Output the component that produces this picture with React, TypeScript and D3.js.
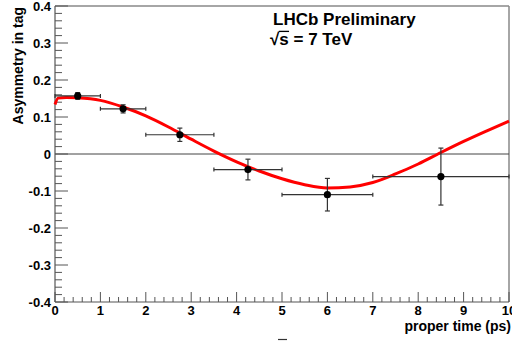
import * as d3 from 'd3';

// binned asymmetry points (bin edges + centre)
const binLow = [0, 1, 2, 3.5, 5, 7];
const binHigh = [1, 2, 3.5, 5, 7, 10];
const binCentre = [0.5, 1.5, 2.75, 4.25, 6, 8.5];
const asym = [0.157, 0.122, 0.052, -0.042, -0.11, -0.061];
const asymErr = [0.009, 0.011, 0.018, 0.028, 0.044, 0.077];

// fitted curve
const fitT = [0, 0.07, 0.25, 0.5, 1, 1.5, 2, 2.5, 3, 3.5, 4, 4.5, 5, 5.5, 6, 6.5, 7, 7.5, 8, 8.5, 9, 9.5, 10];
const fitA = [0.134, 0.151, 0.153, 0.152, 0.145, 0.127, 0.103, 0.073, 0.04, 0.008, -0.021, -0.046, -0.067, -0.083, -0.092, -0.089, -0.077, -0.054, -0.027, 0.004, 0.034, 0.062, 0.089];

const xTitle = 'proper time (ps)';
const yTitle = 'Asymmetry in tag';
const label1 = 'LHCb Preliminary';

const W = 512, H = 345;
const FONT = '"Liberation Sans", Arial, Helvetica, sans-serif';

const App = () => {
  const x = d3.scaleLinear().domain([0, 10]).range([55, 509]);
  const y = d3.scaleLinear().domain([-0.4, 0.4]).range([302, 6]);

  const xMajor = x.ticks(10);
  const xMinor = x.ticks(50).filter(v => !xMajor.some(m => Math.abs(m - v) < 1e-9));
  const yMajor = y.ticks(8);
  const yMinor = y.ticks(40).filter(v => !yMajor.some(m => Math.abs(m - v) < 1e-9));

  const fitData = fitT.map((t, i) => ({ t, a: fitA[i] }));
  const line = d3.line<{ t: number; a: number }>()
    .x(d => x(d.t)).y(d => y(d.a))
    .curve(d3.curveMonotoneX);

  const axisCol = '#555';
  const barCol = '#333';
  const x0 = x(0), yb = y(-0.4);

  // sqrt-s label layout
  const fs = 17;
  const sqX = 270, sqY = 45;

  return (
    <svg width={W} height={H} style={{ position: 'absolute', left: 0, top: 0, background: '#fff' }}
      fontFamily={FONT}>
      <rect x={0} y={0} width={W} height={H} fill="#fff" />

      {/* frame top/right */}
      <line x1={x0} x2={x(10)} y1={y(0.4)} y2={y(0.4)} stroke="#888" strokeWidth={1.5} />
      <line x1={x(10)} x2={x(10)} y1={y(0.4)} y2={yb} stroke="#888" strokeWidth={1.5} />

      {/* zero line */}
      <line x1={x0} x2={x(10)} y1={y(0)} y2={y(0)} stroke="#444" strokeWidth={1} />

      {/* y axis */}
      <line x1={x0} x2={x0} y1={y(0.4)} y2={yb} stroke={axisCol} strokeWidth={1.2} />
      {yMajor.map(v => (
        <line key={'ym' + v} x1={x0} x2={x0 + 13} y1={y(v)} y2={y(v)} stroke={axisCol} strokeWidth={1} />
      ))}
      {yMinor.map(v => (
        <line key={'yn' + v} x1={x0} x2={x0 + 7} y1={y(v)} y2={y(v)} stroke={axisCol} strokeWidth={1} />
      ))}
      {yMajor.map(v => (
        <text key={'yl' + v} x={51} y={y(v)} dy="0.36em" textAnchor="end" fontSize={13} fontWeight="bold" fill="#000">
          {Math.abs(v) < 1e-9 ? '0' : v.toFixed(1)}
        </text>
      ))}

      {/* x axis */}
      <line x1={x0} x2={x(10)} y1={yb} y2={yb} stroke={axisCol} strokeWidth={1.2} />
      {xMajor.map(v => (
        <line key={'xm' + v} x1={x(v)} x2={x(v)} y1={yb} y2={yb - 10} stroke={axisCol} strokeWidth={1} />
      ))}
      {xMinor.map(v => (
        <line key={'xn' + v} x1={x(v)} x2={x(v)} y1={yb} y2={yb - 5} stroke={axisCol} strokeWidth={1} />
      ))}
      {xMajor.map(v => (
        <text key={'xl' + v} x={x(v)} y={315} textAnchor="middle" fontSize={13} fontWeight="bold" fill="#000">
          {v}
        </text>
      ))}

      {/* axis titles */}
      <text x={511} y={331} textAnchor="end" fontSize={14} fontWeight="bold" fill="#000">{xTitle}</text>
      <text transform={`translate(23,7) rotate(-90)`} textAnchor="end" fontSize={14} fontWeight="bold" fill="#000">
        {yTitle}
      </text>

      {/* fit */}
      <path d={line(fitData) || ''} fill="none" stroke="#ff0000" strokeWidth={3} />

      {/* data points */}
      {binCentre.map((t, i) => {
        const cx = x(t), cy = y(asym[i]);
        const yl = y(asym[i] - asymErr[i]), yh = y(asym[i] + asymErr[i]);
        const xl = x(binLow[i]), xh = x(binHigh[i]);
        return (
          <g key={'p' + i} stroke={barCol} strokeWidth={1.2}>
            <line x1={xl} x2={xh} y1={cy} y2={cy} />
            <line x1={xl} x2={xl} y1={cy - 2} y2={cy + 2} />
            <line x1={xh} x2={xh} y1={cy - 2} y2={cy + 2} />
            <line x1={cx} x2={cx} y1={yl} y2={yh} />
            <line x1={cx - 2.5} x2={cx + 2.5} y1={yl} y2={yl} />
            <line x1={cx - 2.5} x2={cx + 2.5} y1={yh} y2={yh} />
            <circle cx={cx} cy={cy} r={3.6} fill="#000" stroke="none" />
          </g>
        );
      })}

      {/* labels */}
      <text x={273} y={25} fontSize={fs} fontWeight="bold" fill="#000">{label1}</text>
      <text x={sqX} y={sqY} fontSize={fs} fontWeight="bold" fill="#000">
        <tspan>√</tspan><tspan>s = 7 TeV</tspan>
      </text>
      <line x1={sqX + fs * 0.52} x2={sqX + fs * 1.12} y1={sqY - fs * 0.8} y2={sqY - fs * 0.8} stroke="#000" strokeWidth={1.3} />

      {/* stray mark below axis */}
      <line x1={278} x2={287} y1={339.5} y2={339.5} stroke="#333" strokeWidth={1.2} />
    </svg>
  );
};

export default App;
